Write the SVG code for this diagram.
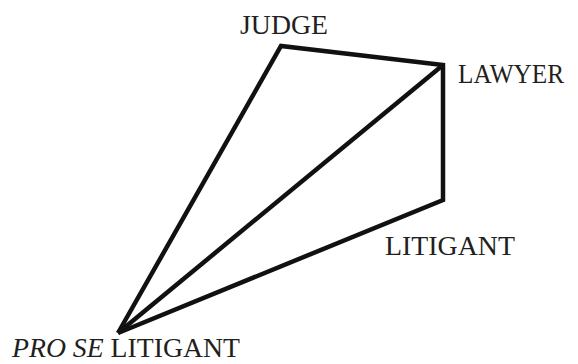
<svg xmlns="http://www.w3.org/2000/svg" width="578" height="364" viewBox="0 0 578 364">
<style>
.lbl{font-family:'Liberation Serif','Times New Roman',serif;font-size:28px;fill:#231f20}
.edge{stroke:#111;stroke-width:4.5;fill:none;stroke-linejoin:miter;stroke-linecap:butt}
</style>
<rect width="578" height="364" fill="#fff"/>
<g id="connectors">
<polyline class="edge" points="118,333 281,46 443,65 443,200 118,333"/>
<line class="edge" x1="118" y1="333" x2="443" y2="65"/>
</g>
<g id="judge"><text class="lbl" x="240" y="34" textLength="88" lengthAdjust="spacingAndGlyphs">JUDGE</text></g>
<g id="lawyer"><text class="lbl" x="458" y="83" textLength="106" lengthAdjust="spacingAndGlyphs">LAWYER</text></g>
<g id="litigant"><text class="lbl" x="385" y="255" textLength="130" lengthAdjust="spacingAndGlyphs">LITIGANT</text></g>
<g id="prose"><text class="lbl" x="12" y="357" textLength="228" lengthAdjust="spacingAndGlyphs"><tspan font-style="italic">PRO SE</tspan> LITIGANT</text></g>
</svg>
